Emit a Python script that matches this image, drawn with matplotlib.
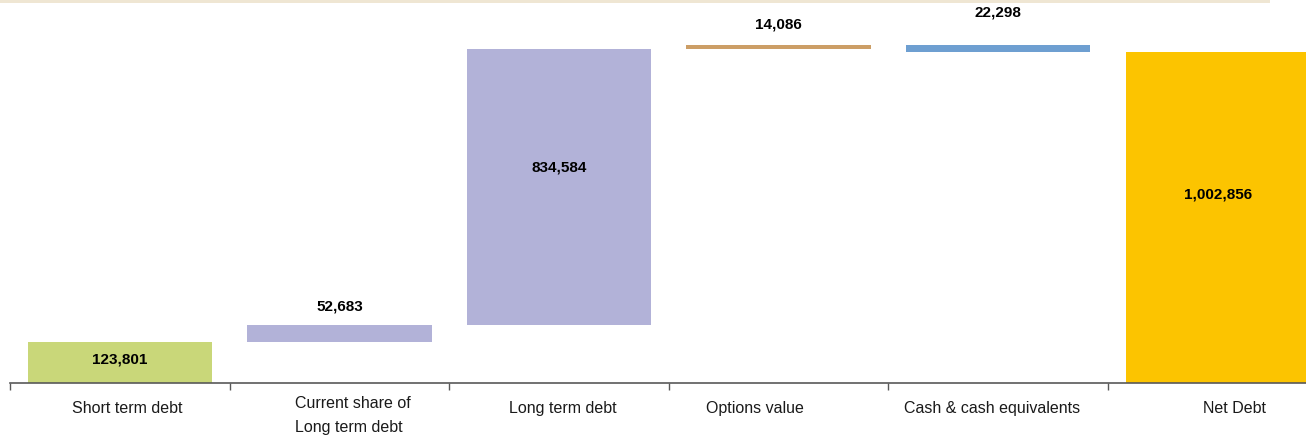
import matplotlib
matplotlib.use("Agg")
import matplotlib.pyplot as plt
import numpy as np

plt.rcParams["font.family"] = ["Liberation Sans", "DejaVu Sans"]

categories = ["Short term debt", "Current share of\nLong term debt", "Long term debt",
              "Options value", "Cash & cash equivalents", "Net Debt"]
changes = [123801, 52683, 834584, 14086, -22298]
total = 1002856
value_labels = ["123,801", "52,683", "834,584", "14,086", "22,298", "1,002,856"]
colors = ["#C9D779", "#B2B2D8", "#B2B2D8", "#CC9E66", "#6E9FD1", "#FCC400"]

# waterfall geometry
bottoms, heights = [], []
running = 0
for c in changes:
    lo, hi = (running, running + c) if c >= 0 else (running + c, running)
    bottoms.append(lo)
    heights.append(hi - lo)
    running += c
bottoms.append(0)
heights.append(total)

W, H = 1306, 436
fig = plt.figure(figsize=(W / 100, H / 100), dpi=100)
fig.patch.set_facecolor("white")

ax_left, ax_bottom = 10 / W, (H - 383) / H
ax = fig.add_axes([ax_left, ax_bottom, 1 - ax_left, 1 - ax_bottom])
slot_px = 219.6
x = np.arange(len(categories))
ax.set_xlim(-0.5, (W - 10) / slot_px - 0.5)
ax.set_ylim(0, 383 * total / 331)

ax.bar(x, heights, bottom=bottoms, width=0.84, color=colors, linewidth=0, zorder=2)

# value labels: inside for large bars, above for thin ones
inside = [True, False, True, False, False, True]
above_px = [0, 18, 0, 20, 32, 0]
for i in range(len(categories)):
    if inside[i]:
        ax.text(x[i], bottoms[i] + 0.57 * heights[i], value_labels[i], ha="center", va="center",
                fontsize=11, fontweight="bold", color="black", zorder=3)
    else:
        ax.annotate(value_labels[i], (x[i], bottoms[i] + heights[i]), xytext=(0, above_px[i]),
                    textcoords="offset pixels", ha="center", va="center",
                    fontsize=11, fontweight="bold", color="black", zorder=3)

for s in ["top", "right", "left"]:
    ax.spines[s].set_visible(False)
ax.spines["bottom"].set_color("#595959")
ax.spines["bottom"].set_linewidth(1.2)
ax.set_yticks([])

# tick marks sit on the category boundaries
ax.set_xticks(np.arange(-0.5, len(categories) - 0.5, 1.0))
ax.set_xticklabels([])
ax.tick_params(axis="x", which="major", length=5, width=1, color="#595959", direction="out")

# category names below the axis, nudged horizontally
label_dx = [7, 13, 4, -24, -6, 17]
label_dy = [-25, -32, -25, -25, -25, -25]
for i, name in enumerate(categories):
    ax.annotate(name, (x[i], 0), xycoords=("data", "axes fraction"),
                xytext=(label_dx[i], label_dy[i]), textcoords="offset pixels",
                ha="center", va="center", multialignment="left",
                fontsize=11.5, color="#1a1a1a", linespacing=1.75, annotation_clip=False)

# decorative band along the top
fig.add_artist(plt.Rectangle((0, 1 - 3 / H), 1270 / W, 3 / H, transform=fig.transFigure,
                             color="#EFE6D3", linewidth=0))

fig.savefig("out.png", dpi=100)
